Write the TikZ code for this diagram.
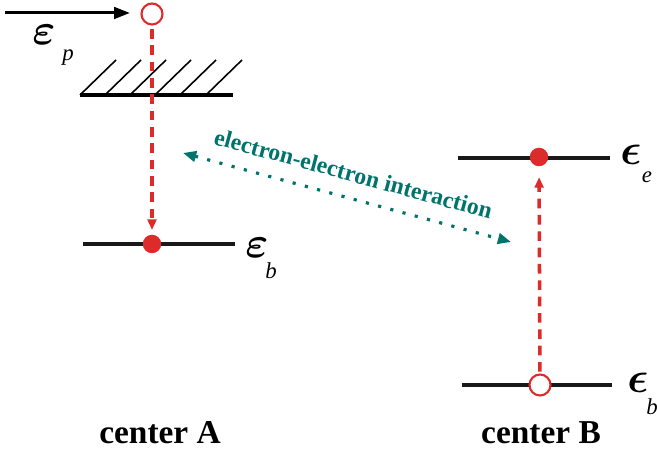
\documentclass[tikz,border=0pt]{standalone}
\usepackage{amsmath}
\usepackage{fontspec}
\setmainfont{Liberation Serif}
\usetikzlibrary{arrows.meta}
\definecolor{hole}{HTML}{DD2A2A}
\definecolor{ee}{HTML}{00736D}

\begin{document}
\begin{tikzpicture}[
  x=0.02cm, y=-0.02cm,
  level/.style={line width=2.4pt, draw=black!90},
  full/.style={circle, fill=hole, inner sep=0pt, minimum size=0.37cm},
  empty/.style={circle, draw=hole, fill=white, line width=1.2pt, inner sep=0pt, minimum size=0.42cm},
  jump/.style={-{Triangle[length=6pt,width=5pt]}, dash pattern=on 5.5pt off 3.8pt, line width=2pt, draw=hole},
  eei/.style={{Triangle[length=7.5pt,width=6pt]}-{Triangle[length=7.5pt,width=6pt]}, dash pattern=on 1.8pt off 5.4pt, line width=1.8pt, draw=ee},
  eps/.style={inner sep=0pt, font=\fontsize{24}{27}\selectfont},
  sub/.style={inner sep=0pt, font=\fontsize{13}{15}\selectfont\itshape},
  center/.style={font=\fontsize{19}{22}\selectfont\bfseries}
]
\useasboundingbox (0,0) rectangle (657,455);

% center A
\draw[-{Triangle[length=9pt,width=6.5pt]}, line width=1.7pt] (5,13) -- (130,13);
\node[empty] (holeA) at (152,14) {};
\node[eps] (epsP) at (44,35) {$\boldsymbol{\varepsilon}$};
\node[sub] at (68,58) {p};

\draw[line width=1.9pt] (80,95) -- (233,95);
\foreach \x in {80,105,130,155,180,206}
  \draw[line width=0.9pt] (\x,95) -- (\x+36,60);

\draw[level] (83,244) -- (235,244);
\node[full] (dotA) at (152,244) {};
\draw[jump, shorten <=2pt, shorten >=2.5pt] (holeA) -- (dotA);
\node[eps] (epsA) at (257,248) {$\boldsymbol{\varepsilon}$};
\node[sub] at (271,271) {b};

% center B
\draw[level] (458,158) -- (610,158);
\node[full] (dotB) at (539,157) {};
\node[eps] (epsE) at (631,155) {$\boldsymbol{\epsilon}$};
\node[sub] at (647,177) {e};

\draw[level] (462,385) -- (612,385);
\node[empty] (holeB) at (540,385) {};
\draw[jump, shorten <=1pt, shorten >=6pt] (holeB) -- (dotB);
\node[eps] (epsB) at (638,383) {$\boldsymbol{\epsilon}$};
\node[sub] at (652,407) {b};

% interaction
\coordinate (eeL) at (183,153);
\coordinate (eeR) at (511,242);
\draw[eei] (eeL) -- node[sloped, above=5pt, text=ee, font=\fontsize{13.5}{16}\selectfont\bfseries] {electron-electron interaction} (eeR);

\node[center] (cA) at (160,433) {center A};
\node[center] (cB) at (541,433) {center B};
\end{tikzpicture}
\end{document}
